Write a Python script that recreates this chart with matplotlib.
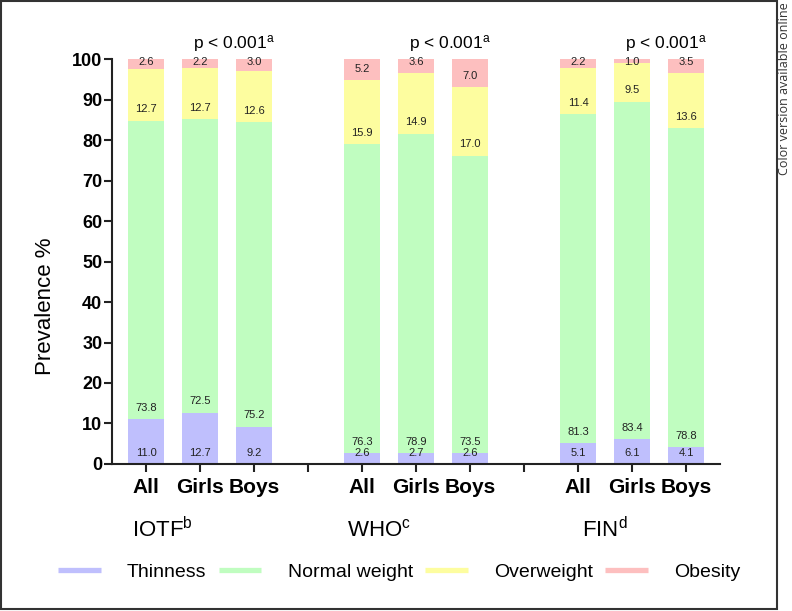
import matplotlib
matplotlib.use("Agg")
from matplotlib import pyplot as plt
from matplotlib.lines import Line2D
from matplotlib.patches import Rectangle
import numpy as np

plt.rcParams['font.family'] = ['Liberation Sans', 'DejaVu Sans']
plt.rcParams['mathtext.default'] = 'regular'

# data
groups = ["IOTF$^{b}$", "WHO$^{c}$", "FIN$^{d}$"]
sexes = ["All", "Girls", "Boys"]
categories = ["Thinness", "Normal weight", "Overweight", "Obesity"]
thinness = [11.0, 12.7, 9.2, 2.6, 2.7, 2.6, 5.1, 6.1, 4.1]
normal = [73.8, 72.5, 75.2, 76.3, 78.9, 73.5, 81.3, 83.4, 78.8]
overweight = [12.7, 12.7, 12.6, 15.9, 14.9, 17.0, 11.4, 9.5, 13.6]
obesity = [2.6, 2.2, 3.0, 5.2, 3.6, 7.0, 2.2, 1.0, 3.5]
p_text = "p < 0.001$^{a}$"

colors = ["#bfbffd", "#c0fdc0", "#fdfd9f", "#fdbfbf"]

x = np.array([0, 1, 2, 4, 5, 6, 8, 9, 10])
series = [thinness, normal, overweight, obesity]

fig = plt.figure(figsize=(7.92, 6.11), dpi=100)
ax = fig.add_axes([0.1414, 0.2406, 0.7677, 0.6628])

bottom = np.zeros(len(x))
for vals, col in zip(series, colors):
    vals = np.array(vals)
    ax.bar(x, vals, width=0.66, bottom=bottom, color=col, edgecolor="none")
    for xi, b, v in zip(x, bottom, vals):
        ax.text(xi, min(b + 2.8, 99.2), "%.1f" % v, ha="center", va="center",
                fontsize=8, color="#222222")
    bottom = bottom + vals

ax.set_xlim(-0.63, 10.63)
ax.set_ylim(0, 100)
ax.set_yticks(range(0, 101, 10))
ax.set_yticklabels([str(v) for v in range(0, 101, 10)], fontsize=13, fontweight="bold")
ax.set_xticks(range(0, 11))
xlabels = []
for i in range(11):
    if i in (3, 7):
        xlabels.append("")
    else:
        xlabels.append(sexes[i % 4])
ax.set_xticklabels(xlabels, fontsize=15, fontweight="bold")
ax.tick_params(axis="both", direction="out", length=6, width=1.5, color="#222222")
ax.tick_params(axis="y", pad=1)
ax.tick_params(axis="x", pad=4)

for s in ["top", "right"]:
    ax.spines[s].set_visible(False)
for s in ["left", "bottom"]:
    ax.spines[s].set_linewidth(1.5)
    ax.spines[s].set_color("#222222")

ax.set_ylabel("Prevalence %", fontsize=16)
ax.yaxis.set_label_coords(-0.092, 0.39)

trans = ax.get_xaxis_transform()
group_x = [0.31, 4.31, 8.5]
for i, g in enumerate(groups):
    ax.text(group_x[i], -0.163, g, transform=trans, ha="center", va="center", fontsize=16)
    ax.text(4 * i + 1.63, 102.7, p_text, ha="center", va="baseline", fontsize=12.5,
            clip_on=False)

handles = [Line2D([0], [0], color=c, lw=3.8, solid_capstyle="butt") for c in colors]
fig.legend(handles, categories, loc="center", bbox_to_anchor=(0.504, 0.0635), ncol=4,
           frameon=False, fontsize=14, handlelength=2.2, handletextpad=1.35,
           columnspacing=0.62)

fig.add_artist(Rectangle((0.0013, 0.0033), 0.9797, 0.9947, transform=fig.transFigure,
                         fill=False, edgecolor="#333333", linewidth=1.5))
fig.text(0.991, 0.997, "Color version available online", rotation=90, ha="center",
         va="top", fontsize=9, family="Open Sans", color="#333333")

fig.savefig("out.png", dpi=100)
plt.close()
